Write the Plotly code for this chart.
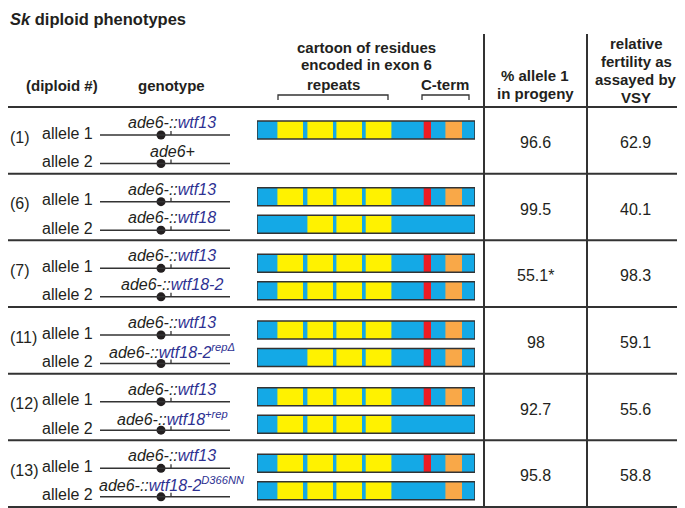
import plotly.graph_objects as go

# ---------------- data ----------------
diploid_ids = [1, 6, 7, 11, 12, 13]
allele1_insert = ["wtf13", "wtf13", "wtf13", "wtf13", "wtf13", "wtf13"]
allele1_sup = ["", "", "", "", "", ""]
allele2_insert = [None, "wtf18", "wtf18-2", "wtf18-2", "wtf18", "wtf18-2"]
allele2_sup = ["", "", "", "repΔ", "+rep", "D366NN"]

pct_allele1 = [96.6, 99.5, 55.1, 98, 92.7, 95.8]
pct_marks = ["", "", "*", "", "", ""]
rel_fertility = [62.9, 40.1, 98.3, 59.1, 55.6, 58.8]

# exon 6 cartoon (arbitrary residue units)
exon_length = 218
repeat_starts = [20.4, 50.4, 79.4, 108.7]
repeat_ends = [46.0, 76.0, 105.0, 134.4]
red_motif = [166.7, 174.0]
orange_motif = [188.4, 205.0]

# per allele (row-major: diploid, allele 1 / allele 2); None = no cartoon
allele_repeats = [[1, 2, 3, 4], None,
                  [1, 2, 3, 4], [2, 3, 4],
                  [1, 2, 3, 4], [1, 2, 3, 4],
                  [1, 2, 3, 4], [2, 3, 4],
                  [1, 2, 3, 4], [1, 2, 3, 4],
                  [1, 2, 3, 4], [1, 2, 3, 4]]
allele_red = [True, None, True, False, True, True, True, True, True, False, True, False]
allele_orange = [True, None, True, False, True, True, True, True, True, False, True, True]

# ---------------- layout constants ----------------
PAGE_W, PAGE_H = 685, 508
OFF = 8  # default page body margin
W, H = PAGE_W - OFF, PAGE_H - OFF
FONT = "Liberation Sans, Arial, sans-serif"
BLUE, YELLOW, RED, ORANGE = "#14A9E6", "#FFF200", "#ED1C24", "#F9A848"
WTF_COLOR = "#2E3192"
LINE_C = "#333333"
ROW_TOP0 = 107
ROW_H = 66.67
COL1_X, COL2_X = 484, 587

fig = go.Figure()
shapes = []
ann = []


def text(x, y, s, size=16, bold=False, xanchor="center", color="#231F20"):
    if bold:
        s = "<b>" + s + "</b>"
    ann.append(dict(x=x, y=y, xref="x", yref="y", text=s, showarrow=False,
                    xanchor=xanchor, yanchor="middle",
                    font=dict(family=FONT, size=size, color=color)))


def hline(y, x0=0, x1=PAGE_W, w=2):
    shapes.append(dict(type="line", xref="x", yref="y", x0=x0, x1=x1, y0=y, y1=y,
                       line=dict(color=LINE_C, width=w)))


def vline(x, y0, y1, w=2):
    shapes.append(dict(type="line", xref="x", yref="y", x0=x, x1=x, y0=y0, y1=y1,
                       line=dict(color=LINE_C, width=w)))


def genotype_label(insert, sup):
    if insert is None:
        return "<i>ade6+</i>"
    s = "<i>ade6-::<span style='color:%s'>%s" % (WTF_COLOR, insert)
    if sup:
        s += "<sup>%s</sup>" % sup
    s += "</span></i>"
    return s


# title
ann.append(dict(x=OFF, y=OFF, xref="x", yref="y", text="<b><i>Sk</i> diploid phenotypes</b>",
                showarrow=False, xanchor="left", yanchor="top",
                font=dict(family=FONT, size=16.5, color="#231F20")))

# header
text(62, 85, "(diploid #)", 15, True)
text(171, 85, "genotype", 15, True)
text(366, 47, "cartoon of residues", 15, True)
text(366, 64, "encoded in exon 6", 15, True)
text(333, 84, "repeats", 15, True)
text(445, 84, "C-term", 15, True)
text(535, 75, "% allele 1", 15, True)
text(535, 93, "in progeny", 15, True)
for yy, s in zip([43, 61, 79, 97], ["relative", "fertility as", "assayed by", "VSY"]):
    text(636, yy, s, 15, True)

# brackets
for bx0, bx1 in [(278, 388), (422, 469)]:
    shapes.append(dict(type="path", xref="x", yref="y",
                       path="M %g %g L %g %g L %g %g L %g %g" % (bx0, 100, bx0, 95, bx1, 95, bx1, 100),
                       line=dict(color=LINE_C, width=1.3)))

# grid lines
n = len(diploid_ids)
row_tops = [ROW_TOP0 + i * ROW_H for i in range(n + 1)]
for y in row_tops:
    hline(y)
vline(COL1_X, 34, row_tops[-1])
vline(COL2_X, 34, row_tops[-1])

# rows
bar_y = []
dot_y = []
for i in range(n):
    top = row_tops[i]
    mid = top + ROW_H / 2
    text(OFF, top + 30, "(%d)" % diploid_ids[i], 16, xanchor="left")
    for k, (ins, sup) in enumerate([(allele1_insert[i], allele1_sup[i]),
                                    (allele2_insert[i], allele2_sup[i])]):
        ly = top + 28 + k * 28.5
        text(39.5, ly - 2, "allele %d" % (k + 1), 16, xanchor="left")
        text(172, ly - 12.5, genotype_label(ins, sup), 16)
        hline(ly, 100, 230, 1.5)
        vline(171, ly - 4, ly, 1.3)
        dot_y.append(ly)
        bar_y.append(top + 23 + k * 27.5)
    text((COL1_X + COL2_X) / 2, mid + 2, "%g%s" % (pct_allele1[i], pct_marks[i]), 16)
    text((COL2_X + PAGE_W) / 2 - 1, mid + 2, "%g" % rel_fertility[i], 16)

# centromere dots
fig.add_trace(go.Scatter(x=[161] * len(dot_y), y=dot_y, mode="markers",
                         marker=dict(size=9, color="#231F20"), hoverinfo="skip",
                         showlegend=False, xaxis="x", yaxis="y"))

# cartoon bars
bg_y, bg_len = [], []
feat = {"rep": ([], [], []), "red": ([], [], []), "orange": ([], [], [])}
for j, reps in enumerate(allele_repeats):
    if reps is None:
        continue
    y = bar_y[j]
    bg_y.append(y)
    bg_len.append(exon_length)
    for r in reps:
        feat["rep"][0].append(y)
        feat["rep"][1].append(repeat_starts[r - 1])
        feat["rep"][2].append(repeat_ends[r - 1] - repeat_starts[r - 1])
    if allele_red[j]:
        feat["red"][0].append(y)
        feat["red"][1].append(red_motif[0])
        feat["red"][2].append(red_motif[1] - red_motif[0])
    if allele_orange[j]:
        feat["orange"][0].append(y)
        feat["orange"][1].append(orange_motif[0])
        feat["orange"][2].append(orange_motif[1] - orange_motif[0])

common = dict(orientation="h", width=18, xaxis="x2", yaxis="y", hoverinfo="skip", showlegend=False)
fig.add_trace(go.Bar(y=bg_y, x=bg_len, base=[0] * len(bg_y),
                     marker=dict(color=BLUE, line=dict(width=0)), **common))
for key, col in [("rep", YELLOW), ("red", RED), ("orange", ORANGE)]:
    ys, bs, ls = feat[key]
    fig.add_trace(go.Bar(y=ys, x=ls, base=bs, marker=dict(color=col, line=dict(width=0)), **common))
fig.add_trace(go.Bar(y=bg_y, x=bg_len, base=[0] * len(bg_y),
                     marker=dict(color="rgba(0,0,0,0)", line=dict(width=1.5, color=LINE_C)), **common))

fig.update_layout(
    width=W, height=H, margin=dict(l=0, r=0, t=0, b=0),
    paper_bgcolor="white", plot_bgcolor="white",
    barmode="overlay", showlegend=False,
    xaxis=dict(range=[OFF, PAGE_W], visible=False, fixedrange=True, domain=[0, 1]),
    xaxis2=dict(range=[0, exon_length], visible=False, fixedrange=True,
                domain=[(257 - OFF) / W, (475 - OFF) / W], anchor="y"),
    yaxis=dict(range=[PAGE_H, OFF], visible=False, fixedrange=True, domain=[0, 1]),
    shapes=shapes, annotations=ann,
)

fig.write_html("out.html", config={"displayModeBar": False})
